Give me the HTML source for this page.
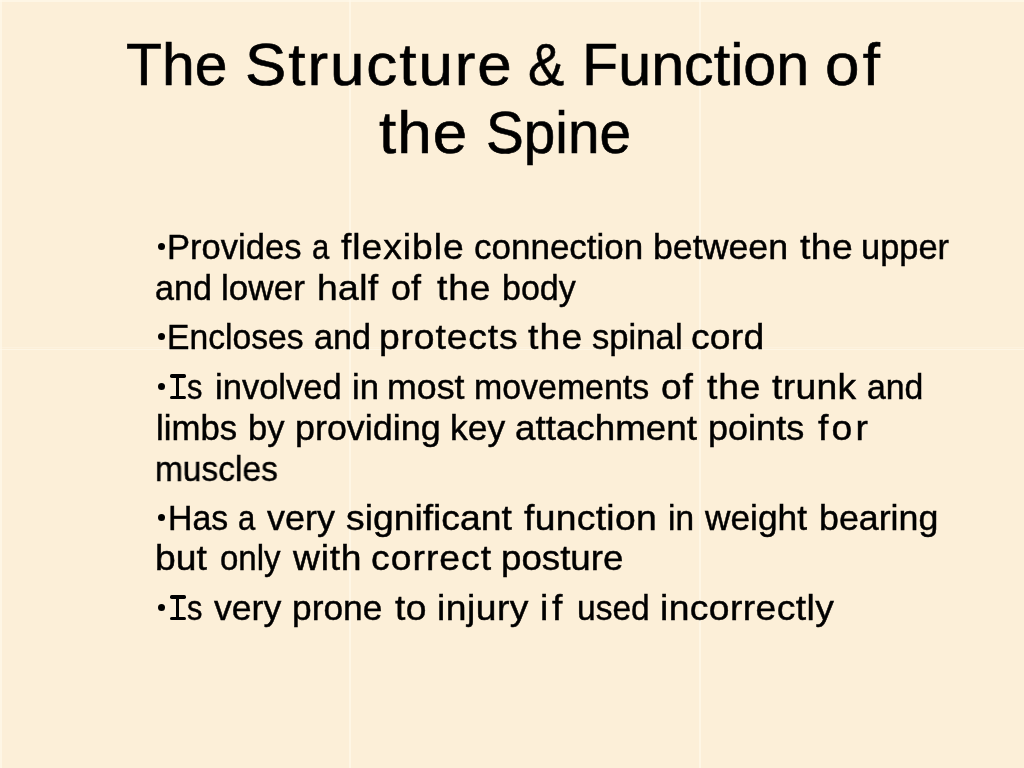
<!DOCTYPE html>
<html lang="en"><head><meta charset="utf-8"><title>The Structure &amp; Function of the Spine</title>
<style>
html,body{margin:0;padding:0}
body{width:1024px;height:768px;overflow:hidden;position:relative;background:#fcefd8;font-family:"Liberation Sans",sans-serif;color:#000}
.ln{position:absolute;left:0;width:1024px;height:0;line-height:1;white-space:nowrap}
.t{font-size:59px;-webkit-text-stroke:0.6px #000}
.p{font-size:35.5px;-webkit-text-stroke:0.45px #000}
.ln span{position:absolute;top:0;display:block;transform-origin:0 0}
.ln i{position:absolute;display:block;border-radius:50%;background:#000}
.ln b{position:absolute;display:block;border-radius:1.7px;background:#000}
.ln{will-change:transform}
.sv,.sh{position:absolute;background:#fff8ea;opacity:.75}
.sv{top:0;width:2px;height:768px}
.sh{left:0;height:1.5px;width:1024px}
</style></head><body>
<div class="sv" style="left:0;width:1.5px"></div><div class="sv" style="left:348.6px"></div><div class="sv" style="left:698.6px"></div>
<div class="sh" style="top:0;height:1.5px"></div><div class="sh" style="top:346.6px;height:1px;opacity:.4"></div><div class="sh" style="top:348.8px"></div>
<div class="ln t" style="top:35.6px"><span style="left:126.0px;transform:scaleX(0.9969)">The</span><span style="left:244.9px;transform:scaleX(1.05);letter-spacing:1.839px">Structure</span><span style="left:527.66px;transform:scaleX(0.9189)">&amp;</span><span style="left:581.68px;transform:scaleX(1.0041)">Function</span><span style="left:824.6px;transform:scaleX(1.05);letter-spacing:3.143px">of</span></div>
<div class="ln t" style="top:104.0px"><span style="left:378.7px;transform:scaleX(1.05);letter-spacing:0.952px">the</span><span style="left:486.18px;transform:scaleX(0.9612)">Spine</span></div>
<div class="ln p" style="top:230.4px"><i style="left:158.4px;top:13.0px;width:7px;height:7px"></i><span style="left:166.68px;transform:scaleX(0.9731)">Provides</span><span style="left:311.73px;transform:scaleX(0.8737)">a</span><span style="left:341.4px;transform:scaleX(1.05);letter-spacing:0.905px">flexible</span><span style="left:473.81px;transform:scaleX(0.9858)">connection</span><span style="left:653.09px;transform:scaleX(1.0062)">between</span><span style="left:799.6px;transform:scaleX(1.05);letter-spacing:0.381px">the</span><span style="left:860.76px;transform:scaleX(0.9697)">upper</span></div>
<div class="ln p" style="top:271.4px"><span style="left:155.04px;transform:scaleX(0.9607)">and</span><span style="left:221.42px;transform:scaleX(0.9892)">lower</span><span style="left:316.6px;transform:scaleX(1.05);letter-spacing:0.317px">half</span><span style="left:391.19px;transform:scaleX(1.0103)">of</span><span style="left:437.1px;transform:scaleX(1.05);letter-spacing:0.762px">the</span><span style="left:501.78px;transform:scaleX(0.9587)">body</span></div>
<div class="ln p" style="top:320.3px"><i style="left:158.4px;top:13.0px;width:7px;height:7px"></i><span style="left:167.45px;transform:scaleX(0.9486)">Encloses</span><span style="left:313.84px;transform:scaleX(0.9625)">and</span><span style="left:379.1px;transform:scaleX(1.05);letter-spacing:0.823px">protects</span><span style="left:528.1px;transform:scaleX(1.05);letter-spacing:1.143px">the</span><span style="left:591.62px;transform:scaleX(0.9767)">spinal</span><span style="left:691.15px;transform:scaleX(1.05);letter-spacing:0.222px">cord</span></div>
<div class="ln p" style="top:370.2px"><i style="left:158.4px;top:13.0px;width:7px;height:7px"></i><b style="left:170.0px;top:4.2px;width:16.1px;height:3.5px"></b><b style="left:170.0px;top:25.5px;width:16.1px;height:3.5px"></b><b style="left:175.82px;top:4.2px;width:3.5px;height:24.8px"></b><span style="left:187.23px;transform:scaleX(0.8688)">s</span><span style="left:214.65px;transform:scaleX(0.973)">involved</span><span style="left:351.95px;transform:scaleX(0.975)">in</span><span style="left:386.99px;transform:scaleX(1.0067)">most</span><span style="left:474.49px;transform:scaleX(0.9547)">movements</span><span style="left:660.85px;transform:scaleX(1.05);letter-spacing:0.619px">of</span><span style="left:707.4px;transform:scaleX(1.05);letter-spacing:0.81px">the</span><span style="left:772.0px;transform:scaleX(1.05);letter-spacing:0.298px">trunk</span><span style="left:867.05px;transform:scaleX(0.9518)">and</span></div>
<div class="ln p" style="top:411.0px"><span style="left:155.64px;transform:scaleX(0.9788)">limbs</span><span style="left:248.06px;transform:scaleX(0.9722)">by</span><span style="left:295.48px;transform:scaleX(1.0107)">providing</span><span style="left:449.5px;transform:scaleX(0.9981)">key</span><span style="left:514.86px;transform:scaleX(1.036)">attachment</span><span style="left:708.27px;transform:scaleX(1.0152)">points</span><span style="left:817.5px;transform:scaleX(1.05);letter-spacing:3.071px">for</span></div>
<div class="ln p" style="top:451.9px"><span style="left:155.11px;transform:scaleX(0.9433)">muscles</span></div>
<div class="ln p" style="top:500.8px"><i style="left:158.4px;top:13.0px;width:7px;height:7px"></i><span style="left:168.44px;transform:scaleX(0.9525)">Has</span><span style="left:238.13px;transform:scaleX(0.8737)">a</span><span style="left:267.2px;transform:scaleX(1.0119)">very</span><span style="left:345.95px;transform:scaleX(1.05);letter-spacing:0.005px">significant</span><span style="left:524.4px;transform:scaleX(1.05);letter-spacing:0.286px">function</span><span style="left:668.12px;transform:scaleX(0.9417)">in</span><span style="left:704.8px;transform:scaleX(0.9942)">weight</span><span style="left:818.68px;transform:scaleX(1.0078)">bearing</span></div>
<div class="ln p" style="top:541.2px"><span style="left:155.2px;transform:scaleX(1.05);letter-spacing:0.048px">but</span><span style="left:220.27px;transform:scaleX(0.93);letter-spacing:-0.043px">only</span><span style="left:293.1px;transform:scaleX(1.05);letter-spacing:0.714px">with</span><span style="left:371.25px;transform:scaleX(1.05);letter-spacing:0.984px">correct</span><span style="left:501.33px;transform:scaleX(1.0339)">posture</span></div>
<div class="ln p" style="top:590.7px"><i style="left:158.4px;top:13.0px;width:7px;height:7px"></i><b style="left:170.0px;top:4.2px;width:16.1px;height:3.5px"></b><b style="left:170.0px;top:25.5px;width:16.1px;height:3.5px"></b><b style="left:175.82px;top:4.2px;width:3.5px;height:24.8px"></b><span style="left:187.23px;transform:scaleX(0.8688)">s</span><span style="left:214.0px;transform:scaleX(1.003)">very</span><span style="left:292.41px;transform:scaleX(0.9943)">prone</span><span style="left:395.3px;transform:scaleX(1.05);letter-spacing:0.286px">to</span><span style="left:437.1px;transform:scaleX(1.05);letter-spacing:0.448px">injury</span><span style="left:540.4px;transform:scaleX(1.05);letter-spacing:3.619px">if</span><span style="left:576.81px;transform:scaleX(0.9452)">used</span><span style="left:660.1px;transform:scaleX(1.05);letter-spacing:0.381px">incorrectly</span></div>
</body></html>
